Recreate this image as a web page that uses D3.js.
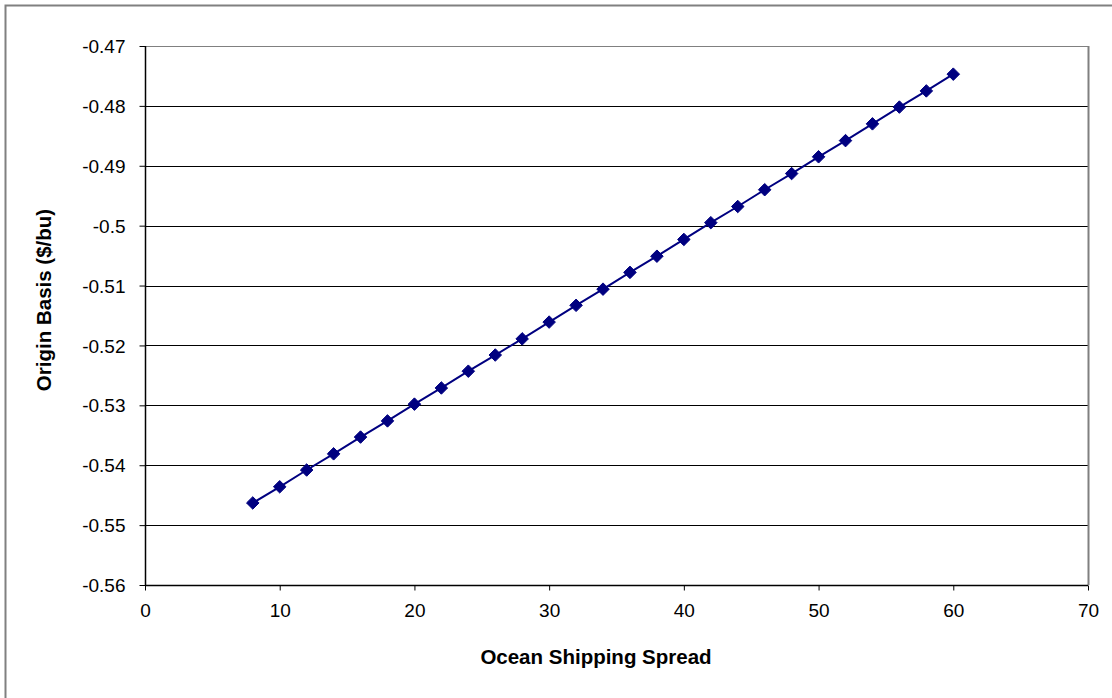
<!DOCTYPE html>
<html><head><meta charset="utf-8">
<script src="https://cdn.jsdelivr.net/npm/d3@7"></script>
<style>body{margin:0;background:#fff}svg{display:block;font-family:"Liberation Sans",Arial,sans-serif}</style>
</head><body><svg id="c" width="1112" height="698"></svg>
<script>
const xValues = [8,10,12,14,16,18,20,22,24,26,28,30,32,34,36,38,40,42,44,46,48,50,52,54,56,58,60];
const yValues = [-0.5463,-0.5436,-0.5408,-0.5381,-0.5353,-0.5326,-0.5298,-0.5271,-0.5243,-0.5216,-0.5189,-0.5161,-0.5133,-0.5106,-0.5078,-0.5051,-0.5023,-0.4995,-0.4968,-0.4940,-0.4913,-0.4885,-0.4858,-0.4830,-0.4802,-0.4775,-0.4747];
const xTicks = [0,10,20,30,40,50,60,70];
const yTicks = [-0.56,-0.55,-0.54,-0.53,-0.52,-0.51,-0.5,-0.49,-0.48,-0.47];
const xTitle = "Ocean Shipping Spread";
const yTitle = "Origin Basis ($/bu)";

const svg = d3.select("#c");
const L=145,R=1088,T=46,B=585;
const x = d3.scaleLinear().domain([0,70]).range([L,R]);
const y = d3.scaleLinear().domain([-0.56,-0.47]).range([B,T]);

// outer border
svg.append("path").attr("d","M5.5,700V5.5H1114").attr("fill","none").attr("stroke","#808080").attr("stroke-width",2);

// gridlines
yTicks.forEach(t=>{
  if (t===-0.56) return;
  svg.append("line").attr("x1",L).attr("x2",R).attr("y1",Math.round(y(t))+0.5).attr("y2",Math.round(y(t))+0.5)
    .attr("stroke", t===-0.47? "#808080":"#000").attr("stroke-width",1);
});
// right border
svg.append("line").attr("x1",R+0.5).attr("x2",R+0.5).attr("y1",T).attr("y2",B).attr("stroke","#808080").attr("stroke-width",2);

// axes
const yAxis = svg.append("g").attr("transform",`translate(${L+0.5},0)`)
  .call(d3.axisLeft(y).tickValues(yTicks).tickSize(6).tickPadding(14).tickFormat(d=>String(+d.toFixed(2))));
const xAxis = svg.append("g").attr("transform",`translate(0,${B+0.5})`)
  .call(d3.axisBottom(x).tickValues(xTicks).tickSize(5).tickPadding(13).tickFormat(d3.format("d")));
[yAxis,xAxis].forEach(g=>{
  g.attr("font-size",null).attr("font-family",null);
  g.select(".domain").attr("stroke","#000").attr("stroke-width",1.5);
  g.selectAll(".tick line").attr("stroke","#000");
  g.selectAll(".tick text").style("font-size","19px").attr("fill","#000");
});
xAxis.select(".domain").attr("d",`M${L},0H${R}`);
yAxis.select(".domain").attr("d",`M0,${T}V${B}`);
yAxis.selectAll(".tick text").attr("dy","0.35em");

// line
const line = d3.line().x((d,i)=>x(xValues[i])).y(d=>y(d));
svg.append("path").datum(yValues).attr("d",line).attr("fill","none").attr("stroke","#000080").attr("stroke-width",2);
// markers
svg.selectAll(".m").data(yValues).enter().append("path").attr("class","m")
  .attr("transform",(d,i)=>`translate(${x(xValues[i])},${y(d)})`)
  .attr("d",d3.symbol().type(d3.symbolDiamond2).size(100))
  .attr("fill","#000080").attr("stroke","#000080").attr("stroke-width",1);

// titles
svg.append("text").attr("x",596).attr("y",664).attr("text-anchor","middle").style("font-size","20.5px").attr("font-weight","bold").text(xTitle);
svg.append("text").attr("transform","translate(51,300) rotate(-90)").attr("text-anchor","middle").style("font-size","20.5px").attr("font-weight","bold").text(yTitle);
</script></body></html>
